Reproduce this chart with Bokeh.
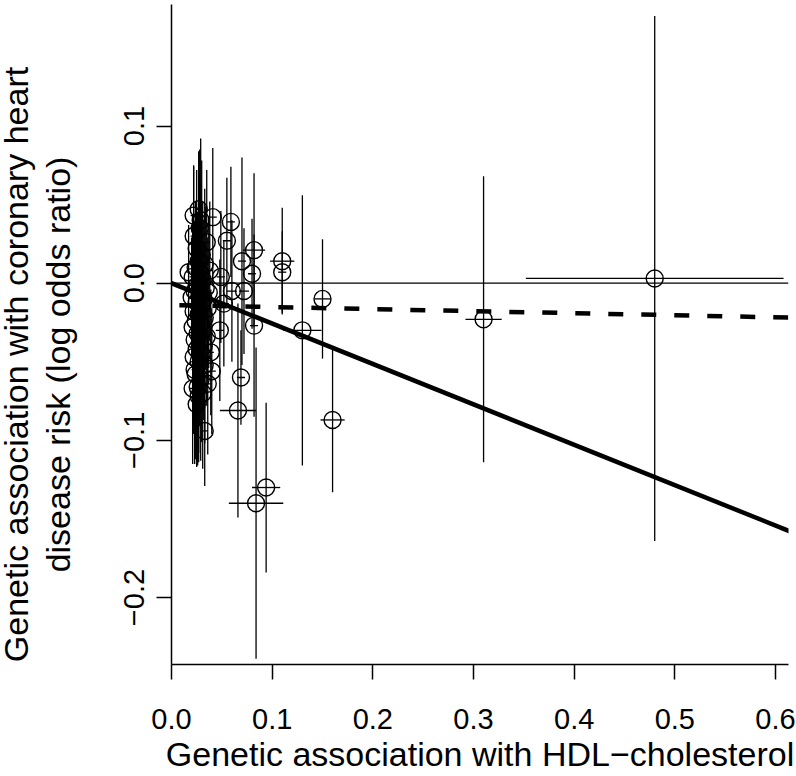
import math
from bokeh.plotting import figure
from bokeh.layouts import row
from bokeh.models import Range1d, FixedTicker, Span, Slope, ColumnDataSource
from bokeh.core.properties import value
from bokeh.embed import file_html
from bokeh.resources import INLINE

# ---- data: genetic associations (beta) and 95% CI half-widths ----
snp_x = [0.480, 0.310, 0.150, 0.130, 0.160, 0.094, 0.084, 0.110, 0.110, 0.066,
         0.069, 0.082, 0.080, 0.082, 0.070, 0.072, 0.059, 0.060, 0.055, 0.049,
         0.052, 0.048, 0.040, 0.033, 0.041, 0.027, 0.022, 0.029, 0.017, 0.025,
         0.021, 0.023,
         0.022, 0.025, 0.030, 0.027, 0.033, 0.024, 0.029, 0.021, 0.031, 0.026,
         0.034, 0.023, 0.028, 0.020, 0.032, 0.025, 0.030, 0.036, 0.022, 0.027,
         0.033, 0.024, 0.029, 0.021, 0.031, 0.026, 0.035, 0.023, 0.028, 0.032,
         0.025, 0.030, 0.022, 0.027, 0.033, 0.024, 0.029, 0.026, 0.031, 0.028,
         0.035, 0.038, 0.037, 0.039, 0.036, 0.027]
snp_y = [0.003, -0.023, -0.010, -0.030, -0.087, -0.130, -0.140, 0.014, 0.007, -0.081,
         -0.060, 0.021, 0.006, -0.027, 0.014, -0.005, 0.039, -0.005, 0.027, 0.004,
         -0.013, -0.030, -0.056, -0.094, 0.042, 0.047, 0.043, 0.040, 0.007, -0.077,
         -0.067, -0.055,
         0.030, 0.022, 0.018, 0.014, 0.012, 0.010, 0.006, 0.004, 0.002, -0.001,
         -0.003, -0.005, -0.007, -0.009, -0.010, -0.012, -0.014, -0.016, -0.018, -0.020,
         -0.022, -0.024, -0.026, -0.028, -0.030, -0.032, -0.034, -0.036, -0.038, -0.040,
         -0.042, -0.045, -0.047, -0.050, -0.052, -0.058, -0.061, -0.066, -0.070, 0.035,
         0.026, 0.008, -0.006, -0.044, -0.064, -0.072]
snp_x_ci = [0.128, 0.018, 0.008, 0.019, 0.012, 0.014, 0.027, 0.012, 0.004, 0.018,
            0.004, 0.011, 0.004, 0.004, 0.004, 0.005, 0.004, 0.005, 0.004, 0.004,
            0.005, 0.004, 0.004, 0.003, 0.004, 0.003, 0.003, 0.003, 0.002, 0.003,
            0.003, 0.003,
            0.003, 0.003, 0.003, 0.003, 0.003, 0.003, 0.003, 0.003, 0.003, 0.003,
            0.003, 0.003, 0.003, 0.003, 0.003, 0.003, 0.003, 0.003, 0.003, 0.003,
            0.003, 0.003, 0.003, 0.003, 0.003, 0.003, 0.003, 0.003, 0.003, 0.003,
            0.003, 0.003, 0.003, 0.003, 0.003, 0.003, 0.003, 0.003, 0.003, 0.003,
            0.003, 0.003, 0.003, 0.003, 0.003, 0.003]
snp_y_ci = [0.167, 0.091, 0.038, 0.086, 0.046, 0.054, 0.099, 0.034, 0.026, 0.068,
            0.030, 0.049, 0.035, 0.058, 0.066, 0.040, 0.035, 0.045, 0.040, 0.042,
            0.040, 0.045, 0.040, 0.035, 0.044, 0.037, 0.031, 0.052, 0.030, 0.040,
            0.048, 0.060,
            0.045, 0.050, 0.060, 0.055, 0.048, 0.042, 0.058, 0.040, 0.050, 0.046,
            0.052, 0.044, 0.056, 0.038, 0.050, 0.047, 0.054, 0.045, 0.043, 0.052,
            0.048, 0.050, 0.055, 0.046, 0.051, 0.049, 0.044, 0.050, 0.053, 0.047,
            0.052, 0.056, 0.049, 0.058, 0.050, 0.054, 0.052, 0.050, 0.048, 0.050,
            0.046, 0.044, 0.048, 0.040, 0.045, 0.042]

# fitted lines
ivw_slope = -0.257
egger_intercept = -0.0139
egger_slope = -0.013

x_ticks = [0.0, 0.1, 0.2, 0.3, 0.4, 0.5, 0.6]
x_tick_labels = ["0.0", "0.1", "0.2", "0.3", "0.4", "0.5", "0.6"]
y_ticks = [-0.2, -0.1, 0.0, 0.1]
y_tick_labels = ["\u22120.2", "\u22120.1", "0.0", "0.1"]

x_label = "Genetic association with HDL\u2212cholesterol"
y_label_lines = ["Genetic association with coronary heart",
                 "disease risk (log odds ratio)"]

FONT = "Liberation Sans"
H = 776
TITLE_W = 100
TOP, BOTTOM = 4, 112
FRAME_H = H - TOP - BOTTOM

# ---- left strip holding the two-line y-axis title ----
t = figure(width=TITLE_W, height=H, x_range=Range1d(0, TITLE_W), y_range=Range1d(0, FRAME_H),
           output_backend="svg", toolbar_location=None,
           x_axis_location=None, y_axis_location=None,
           min_border_left=0, min_border_right=0,
           min_border_top=TOP, min_border_bottom=BOTTOM)
t.outline_line_color = None
t.xgrid.visible = False
t.ygrid.visible = False
t.text(x=[15, 57], y=[300, 300], text=y_label_lines, angle=math.pi / 2,
       text_align="center", text_baseline="alphabetic",
       text_font=value(FONT), text_font_size="34px", text_color="black")

# ---- main scatter ----
src = ColumnDataSource(dict(
    x=snp_x, y=snp_y,
    x0=[a - b for a, b in zip(snp_x, snp_x_ci)],
    x1=[a + b for a, b in zip(snp_x, snp_x_ci)],
    y0=[a - b for a, b in zip(snp_y, snp_y_ci)],
    y1=[a + b for a, b in zip(snp_y, snp_y_ci)],
))

p = figure(width=796 - TITLE_W, height=H,
           x_range=Range1d(0, 0.6129), y_range=Range1d(-0.2426, 0.1773),
           output_backend="svg", toolbar_location=None,
           min_border_left=171 - TITLE_W, min_border_right=8,
           min_border_top=TOP, min_border_bottom=BOTTOM)
p.background_fill_color = "white"
p.border_fill_color = "white"
p.outline_line_color = None
p.xgrid.visible = False
p.ygrid.visible = False

for ax, ticks, labels in ((p.xaxis[0], x_ticks, x_tick_labels),
                          (p.yaxis[0], y_ticks, y_tick_labels)):
    ax.ticker = FixedTicker(ticks=ticks)
    ax.major_label_overrides = {tk: lb for tk, lb in zip(ticks, labels)}
    ax.axis_line_width = 1.5
    ax.axis_line_color = "black"
    ax.major_tick_line_color = "black"
    ax.major_tick_line_width = 1.5
    ax.major_tick_out = 15
    ax.major_tick_in = 0
    ax.minor_tick_out = 0
    ax.minor_tick_in = 0
    ax.major_label_text_font = FONT
    ax.major_label_text_font_size = "29px"
    ax.major_label_text_color = "black"
    ax.axis_label_text_font = FONT
    ax.axis_label_text_font_size = "34px"
    ax.axis_label_text_font_style = "normal"
    ax.axis_label_text_color = "black"

p.xaxis.axis_label = x_label
p.xaxis.major_label_standoff = 29
p.xaxis.axis_label_standoff = 3
p.yaxis.major_label_orientation = "vertical"
p.yaxis.major_label_standoff = 12

# zero line
p.add_layout(Span(location=0, dimension="width", line_color="black", line_width=1.3))

# error bars
p.segment(x0="x", y0="y0", x1="x", y1="y1", source=src, line_color="black", line_width=1.3)
p.segment(x0="x0", y0="y", x1="x1", y1="y", source=src, line_color="black", line_width=1.3)
# points
p.scatter(x="x", y="y", source=src, marker="circle", size=17,
          fill_color=None, line_color="black", line_width=1.4)

# IVW (solid) and MR-Egger (dashed) lines
p.add_layout(Slope(gradient=ivw_slope, y_intercept=0.0, line_color="black", line_width=4.5))
p.add_layout(Slope(gradient=egger_slope, y_intercept=egger_intercept, line_color="black",
                   line_width=4.5, line_dash="15 18"))

layout = row(t, p)
open("out.html", "w").write(file_html(layout, INLINE))
